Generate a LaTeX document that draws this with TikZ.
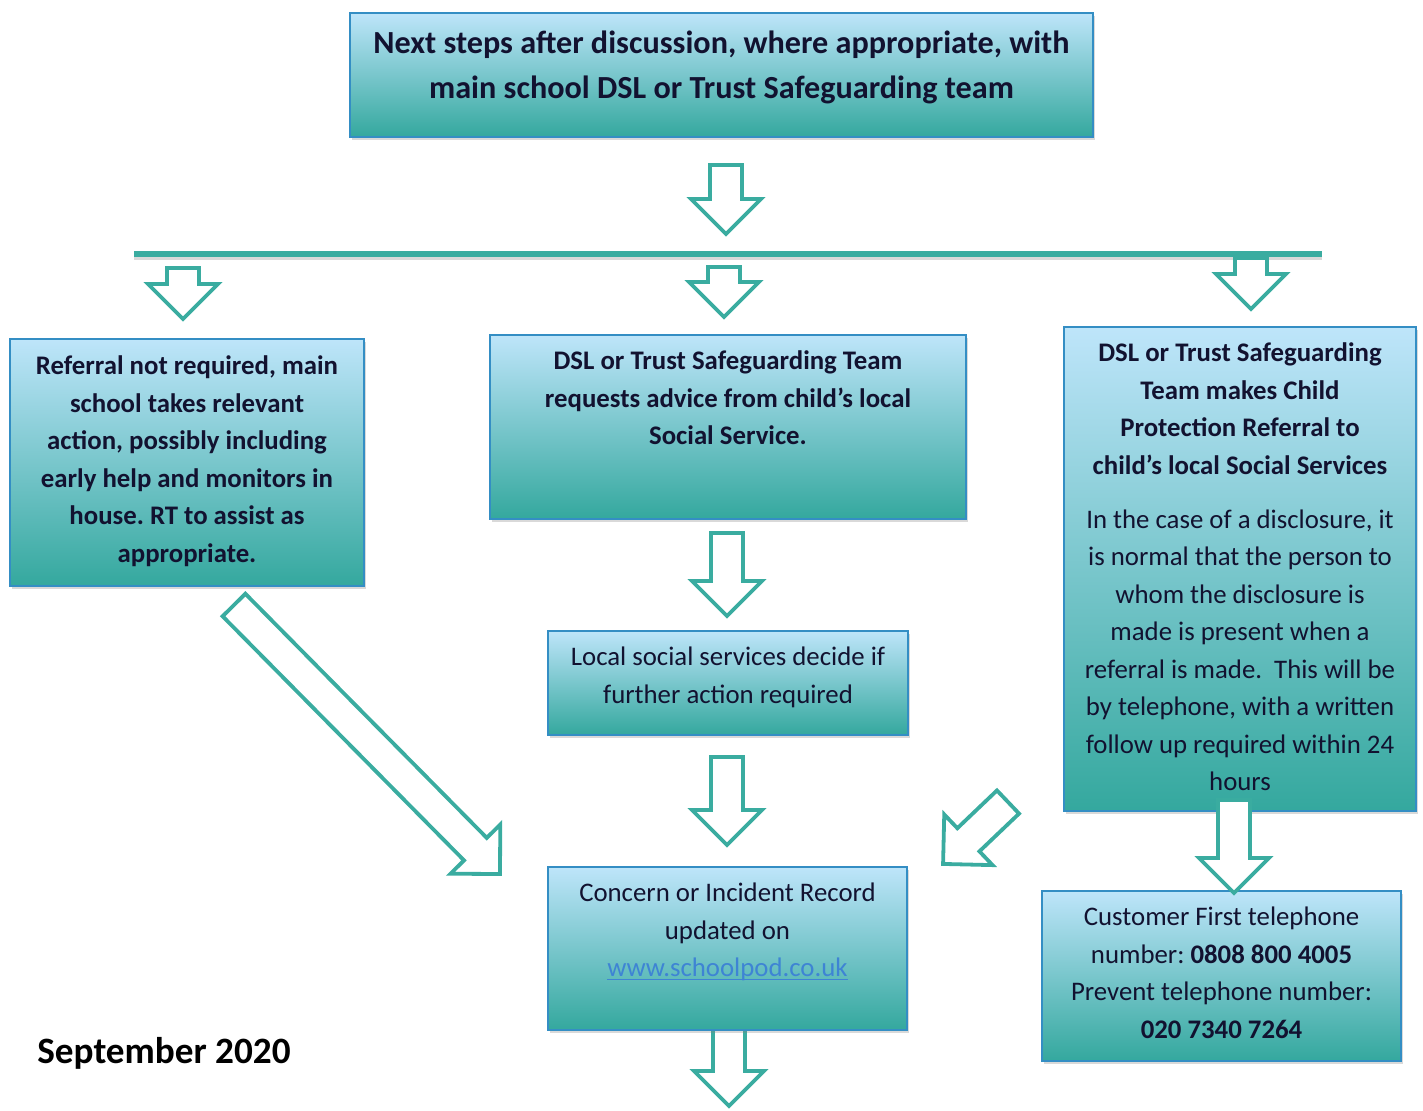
\documentclass[tikz,border=0pt]{standalone}
\usepackage{fontspec}
\setmainfont{Carlito}
\usetikzlibrary{shadows}

\definecolor{boxtop}{RGB}{190,229,250}
\definecolor{boxbot}{RGB}{52,168,158}
\definecolor{boxedge}{RGB}{52,142,196}
\definecolor{arrteal}{RGB}{58,172,160}
\definecolor{inktext}{RGB}{18,18,48}
\definecolor{linkblue}{RGB}{62,132,212}

\newcommand\boxfont{\fontsize{13.4}{18.75}\selectfont}
\newcommand\headfont{\fontsize{16.1}{22.5}\selectfont}
\newcommand\datefont{\fontsize{18.6}{22}\selectfont}
\newcommand\linkul[1]{\setbox0\hbox{#1}\rlap{\rule[-1.6pt]{\wd0}{0.6pt}}\box0}
\frenchspacing

\tikzset{
  box/.style={draw=boxedge, line width=0.8pt, top color=boxtop, bottom color=boxbot,
    drop shadow={shadow xshift=0.8pt, shadow yshift=-1.6pt, opacity=0.3},
    align=flush center, inner xsep=2pt, inner ysep=0pt, anchor=north,
    text=inktext, font=\boxfont,
    execute at begin node={\spaceskip=0pt\xspaceskip=0pt}},
  arrline/.style={draw=arrteal, line width=1.9pt, fill=white},
  hline/.style={draw=arrteal, line width=3pt,
    preaction={draw=black, opacity=0.15, line width=3pt, transform canvas={yshift=-1.5pt}}},
  pics/blockarr/.style={code={
    \draw[arrline] (0pt,-8pt) -- ({#1pt-17.5pt},-8pt) -- ({#1pt-17.5pt},-17.5pt)
      -- (#1pt,0pt) -- ({#1pt-17.5pt},17.5pt) -- ({#1pt-17.5pt},8pt) -- (0pt,8pt) -- cycle;
  }}
}

\begin{document}
\begin{tikzpicture}[x=0.5pt, y=-0.5pt]

  \useasboundingbox (0,0) rectangle (1423,1110);

  % block arrow from one named point to another
  \newcommand\blockarrow[2]{%
    \pgfpointdiff{\pgfpointanchor{#1}{center}}{\pgfpointanchor{#2}{center}}%
    \pgfgetlastxy\arrdx\arrdy
    \pgfmathsetmacro\arrang{atan2(\arrdy,\arrdx)}%
    \pgfmathsetmacro\arrlen{veclen(\arrdx,\arrdy)}%
    \pic[rotate=\arrang] at (#1) {blockarr=\arrlen};}

  \coordinate (hl) at (134,254);
  \coordinate (hr) at (1322,254);
  \draw[hline] (hl) -- (hr);

  \coordinate (a1s) at (726,165);  \coordinate (a1e) at (726,234);
  \coordinate (a2s) at (183,268);  \coordinate (a2e) at (183,319);
  \coordinate (a3s) at (724,267);  \coordinate (a3e) at (724,317);
  \coordinate (a4s) at (1251,258); \coordinate (a4e) at (1251,309);
  \coordinate (a5s) at (727,533);  \coordinate (a5e) at (727,616);
  \coordinate (a6s) at (727,757);  \coordinate (a6e) at (727,845);
  \coordinate (a7s) at (729,1020); \coordinate (a7e) at (729,1106);
  \coordinate (a8s) at (1234,800); \coordinate (a8e) at (1234,893);
  \coordinate (d1s) at (234,605);  \coordinate (d1e) at (500,874);
  \coordinate (d2s) at (1008,802); \coordinate (d2e) at (943,864);

  \blockarrow{a1s}{a1e}
  \blockarrow{a2s}{a2e}
  \blockarrow{a3s}{a3e}
  \blockarrow{a4s}{a4e}
  \blockarrow{a5s}{a5e}
  \blockarrow{a6s}{a6e}
  \blockarrow{a7s}{a7e}
  \blockarrow{d1s}{d1e}
  \blockarrow{d2s}{d2e}

  \node[box, text width=367.5pt, text height=20.5pt, text depth=41.5pt, font=\headfont\bfseries]
    (next) at (721.5,12) {Next steps after discussion, where appropriate, with\\
    main school DSL or Trust Safeguarding team};

  \node[box, text width=173pt, text height=18pt, text depth=105.5pt, font=\boxfont\bfseries]
    (noref) at (187,338) {Referral not required, main\\ school takes relevant\\
    action, possibly including\\ early help and monitors in\\ house. RT to assist as\\ appropriate.};

  \node[box, text width=234pt, text height=17.5pt, text depth=74.5pt, font=\boxfont\bfseries]
    (advice) at (728,334) {DSL or Trust Safeguarding Team\\ requests advice from child’s local\\ Social Service.};

  \node[box, text width=172pt, text height=17.5pt, text depth=224.5pt]
    (cpref) at (1240,326) {\textbf{DSL or Trust Safeguarding}\\ \textbf{Team makes Child}\\
    \textbf{Protection Referral to}\\ \textbf{child’s local Social Services}\\[8.25pt]
    In the case of a disclosure, it\\ is normal that the person to\\ whom the disclosure is\\
    made is present when a\\ referral is made.~ This will be\\ by telephone, with a written\\
    follow up required within 24\\ hours};

  \node[box, text width=176pt, text height=17.5pt, text depth=34.5pt]
    (decide) at (728,630) {Local social services decide if\\ further action required};

  \node[box, text width=175.5pt, text height=17.5pt, text depth=64pt]
    (record) at (727.5,866) {Concern or Incident Record\\ updated on\\
    \textcolor{linkblue}{\linkul{www.schoolpod.co.uk}}};

  \node[box, text width=175.5pt, text height=17.5pt, text depth=67.5pt]
    (phone) at (1221.5,890) {Customer First telephone\\ number: \textbf{0808 800 4005}\\
    Prevent telephone number:\\ \textbf{020 7340 7264}};

  \blockarrow{a8s}{a8e}

  \node[anchor=base west, inner sep=0pt, font=\datefont\bfseries] (date) at (37,1063) {September 2020};

\end{tikzpicture}
\end{document}
